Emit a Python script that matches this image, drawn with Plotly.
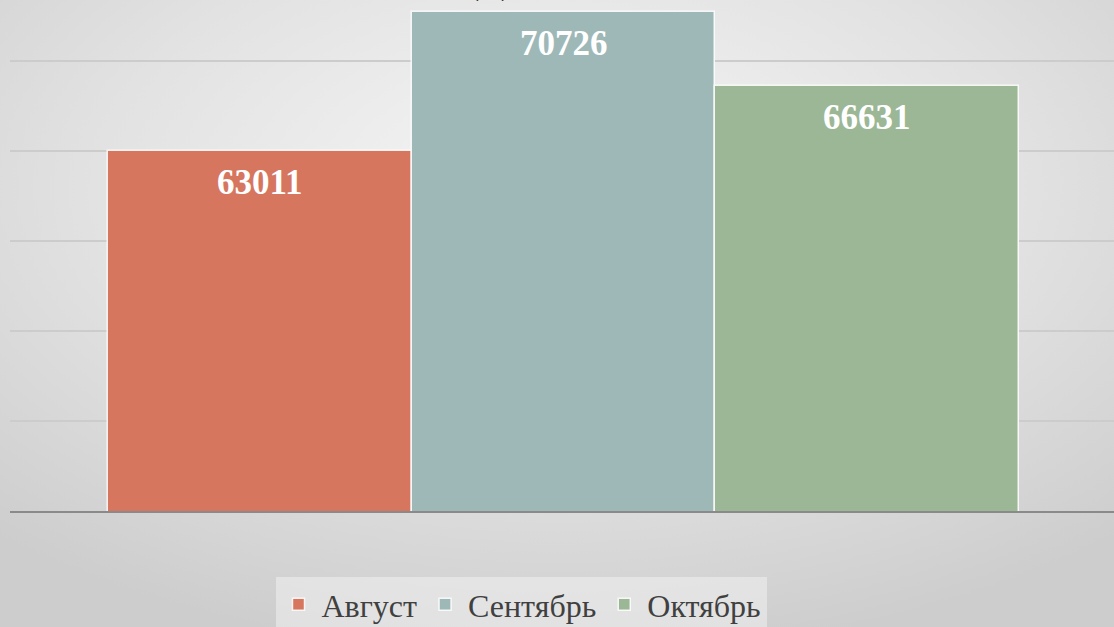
import base64
import plotly.graph_objects as go

months = ["Август", "Сентябрь", "Октябрь"]
values = [63011, 70726, 66631]
colors = ["#D6765F", "#9EB8B8", "#9BB796"]
title_text = "Д"

W, H = 1114, 627
ml, mr, mt, mb = 10, 0, 0, 116
pw, ph = W - ml - mr, H - mt - mb

svg = f'''<svg xmlns="http://www.w3.org/2000/svg" width="{W}" height="{H}">
<defs><radialGradient id="g" cx="50%" cy="30%" r="75%" fx="50%" fy="30%">
<stop offset="0" stop-color="#f6f6f6"/><stop offset="0.55" stop-color="#e2e2e2"/><stop offset="1" stop-color="#cdcdcd"/>
</radialGradient></defs><rect width="{W}" height="{H}" fill="url(#g)"/></svg>'''
bg_uri = "data:image/svg+xml;base64," + base64.b64encode(svg.encode()).decode()

serif = "Liberation Serif, DejaVu Serif, serif"

fig = go.Figure()
for m, v, c in zip(months, values, colors):
    fig.add_trace(go.Bar(
        x=[m], y=[v], name=m,
        marker=dict(color=c, line=dict(color="rgba(255,255,255,0.85)", width=1.5)),
    ))
    fig.add_annotation(x=m, y=v, text=f"<b>{v}</b>", showarrow=False,
                       yanchor="middle", yshift=-32,
                       font=dict(family=serif, size=35, color="white"))

fig.add_annotation(x=(490 - ml) / pw, y=1, xref="paper", yref="paper", text=title_text,
                   showarrow=False, yanchor="bottom", yshift=-3,
                   font=dict(family=serif, size=42, color="#333333"))

bw = 303.7
c1 = 563.5
fig.update_layout(
    width=W, height=H,
    margin=dict(l=ml, r=mr, t=mt, b=mb, pad=0, autoexpand=False),
    paper_bgcolor="#dadada",
    plot_bgcolor="rgba(0,0,0,0)",
    barmode="overlay",
    bargap=0,
    showlegend=True,
    legend=dict(orientation="h", x=(521 - ml) / pw, xanchor="center",
                y=-66 / ph, yanchor="top",
                bgcolor="rgba(240,240,240,0.55)",
                font=dict(family=serif, size=32, color="#404040"),
                itemwidth=36, tracegroupgap=0),
    xaxis=dict(range=[1 - (c1 - ml) / bw, 1 + (W - c1) / bw], showticklabels=False,
               showgrid=False, zeroline=False, showline=True, linecolor="#8a8a8a",
               linewidth=2, ticks=""),
    yaxis=dict(range=[43000, 43000 + (511 - 0) / 0.018], tick0=43000, dtick=5000,
               showticklabels=False, showgrid=True, gridcolor="#cccccc", gridwidth=1.5,
               zeroline=False, ticks=""),
    images=[dict(source=bg_uri, xref="paper", yref="paper", x=-ml / pw, y=1 + mt / ph,
                 sizex=W / pw, sizey=H / ph, xanchor="left", yanchor="top",
                 sizing="stretch", layer="below")],
)

fig.write_html("out.html", config={"displayModeBar": False},
               post_script="document.body.style.margin='0';document.body.style.overflow='hidden';")
